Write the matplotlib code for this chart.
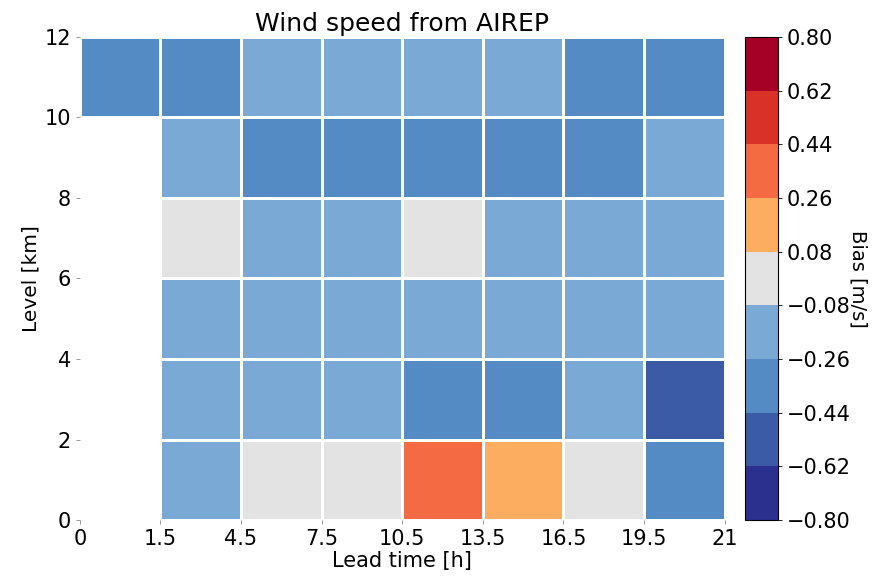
import numpy as np
import matplotlib
matplotlib.use("Agg")
import matplotlib.pyplot as plt
from matplotlib.colors import ListedColormap, BoundaryNorm

# Lead-time bin edges [h] and level bin edges [km]
lead_edges = ["0", "1.5", "4.5", "7.5", "10.5", "13.5", "16.5", "19.5", "21"]
level_edges = [0, 2, 4, 6, 8, 10, 12]

# Wind-speed bias [m/s], rows = level bins (bottom to top), cols = lead-time bins
bias_0_2 = [np.nan, -0.17, 0.0, 0.0, 0.35, 0.17, 0.0, -0.35]
bias_2_4 = [np.nan, -0.17, -0.17, -0.17, -0.35, -0.35, -0.17, -0.53]
bias_4_6 = [np.nan, -0.17, -0.17, -0.17, -0.17, -0.17, -0.17, -0.17]
bias_6_8 = [np.nan, 0.0, -0.17, -0.17, 0.0, -0.17, -0.17, -0.17]
bias_8_10 = [np.nan, -0.17, -0.35, -0.35, -0.35, -0.35, -0.35, -0.17]
bias_10_12 = [-0.35, -0.35, -0.17, -0.17, -0.17, -0.17, -0.35, -0.35]

# Colour levels
levels = [-0.80, -0.62, -0.44, -0.26, -0.08, 0.08, 0.26, 0.44, 0.62, 0.80]
colors = ["#2b2f8e", "#3c5ba6", "#548bc4", "#7aa9d6", "#e3e3e3",
          "#fdad5f", "#f46b43", "#d93127", "#a50026"]

bias = np.ma.masked_invalid(np.array([bias_0_2, bias_2_4, bias_4_6,
                                      bias_6_8, bias_8_10, bias_10_12]))

cmap = ListedColormap(colors)
norm = BoundaryNorm(levels, cmap.N)

fig = plt.figure(figsize=(8.87, 5.76), dpi=100)
ax = fig.add_axes([0.090, 0.097, 0.727, 0.839])
cax = fig.add_axes([0.840, 0.097, 0.037, 0.839])

xe = np.arange(len(lead_edges))
mesh = ax.pcolormesh(xe, level_edges, bias, cmap=cmap, norm=norm,
                     edgecolors="white", linewidth=1.8)

ax.set_xticks(xe)
ax.set_xticklabels(lead_edges)
ax.set_yticks(level_edges)
ax.set_xlim(xe[0], xe[-1])
ax.set_ylim(level_edges[0], level_edges[-1])
for s in ax.spines.values():
    s.set_visible(False)
ax.tick_params(labelsize=15, length=3, width=0.6, color="#888888")
ax.set_xlabel("Lead time [h]", fontsize=15, labelpad=1)
ax.set_ylabel("Level [km]", fontsize=14.5, labelpad=3)
ax.set_title("Wind speed from AIREP", fontsize=18, pad=4)

cb = fig.colorbar(mesh, cax=cax, ticks=levels)
cb.ax.set_yticklabels([f"{v:.2f}".replace("-", "\u2212") for v in levels])
cb.ax.tick_params(labelsize=15, length=3, width=0.6)
cb.outline.set_linewidth(0.8)
cb.set_label("Bias [m/s]", rotation=270, fontsize=14, labelpad=12)

fig.savefig("out.png", dpi=100)
